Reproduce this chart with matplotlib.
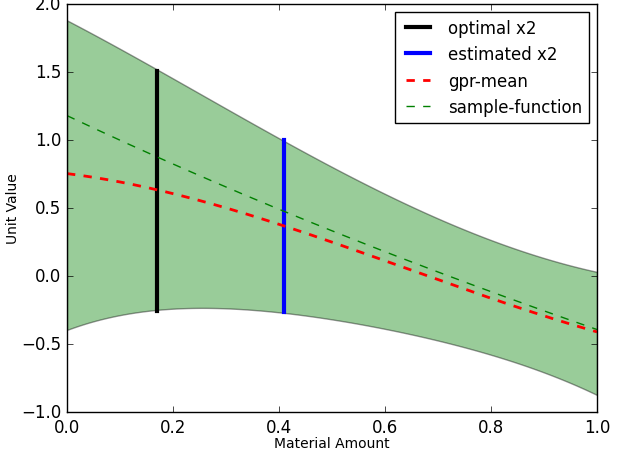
import matplotlib
matplotlib.use("Agg")
import matplotlib.pyplot as plt
import numpy as np
from numpy.polynomial import polynomial as P

# values, x = material amount
x_grid = [0.0, 0.1, 0.2, 0.3, 0.4, 0.5, 0.6, 0.7, 0.8, 0.9, 1.0]
gpr_mean = [0.75, 0.69, 0.61, 0.51, 0.38, 0.24, 0.10, -0.03, -0.15, -0.285, -0.42]
band_upper = [1.88, 1.67, 1.45, 1.23, 1.02, 0.80, 0.60, 0.42, 0.27, 0.13, 0.03]
band_lower = [-0.39, -0.30, -0.245, -0.225, -0.26, -0.32, -0.40, -0.48, -0.575, -0.70, -0.88]
sample_fn = [1.18, 1.00, 0.82, 0.65, 0.49, 0.34, 0.18, 0.03, -0.12, -0.26, -0.39]

optimal_x2 = 0.17
optimal_span = [-0.26, 1.51]
estimated_x2 = 0.41
estimated_span = [-0.265, 1.0]

plt.style.use("classic")
fig = plt.figure(figsize=(6.17, 4.52), dpi=100, facecolor="white")
ax = fig.add_axes([0.1086, 0.0863, 0.859, 0.9027])

# smooth curves through the read-off points
xs = np.linspace(0, 1, 200)
upper = P.polyval(xs, P.polyfit(x_grid, band_upper, 4))
lower = P.polyval(xs, P.polyfit(x_grid, band_lower, 4))
mean = P.polyval(xs, P.polyfit(x_grid, gpr_mean, 3))
sample = P.polyval(xs, P.polyfit(x_grid, sample_fn, 3))

ax.fill_between(xs, lower, upper, facecolor="g", edgecolor="k", alpha=0.4, linewidth=1)
ax.plot([optimal_x2, optimal_x2], optimal_span, color="k", linewidth=3, label="optimal x2")
ax.plot([estimated_x2, estimated_x2], estimated_span, color="b", linewidth=3, label="estimated x2")
ax.plot(xs, mean, "r--", linewidth=2, label="gpr-mean")
ax.plot(xs, sample, "g--", linewidth=1, label="sample-function")

ax.set_xlim(0, 1)
ax.set_ylim(-1, 2)
ax.set_xlabel("Material Amount", fontsize=10)
ax.set_ylabel("Unit Value", fontsize=10)
ax.xaxis.set_label_coords(0.5, -0.059)
ax.yaxis.set_label_coords(-0.089, 0.5)
ax.legend(loc="upper right", fontsize=12, handlelength=2.0)

fig.savefig("out.png", dpi=100, facecolor="white")
